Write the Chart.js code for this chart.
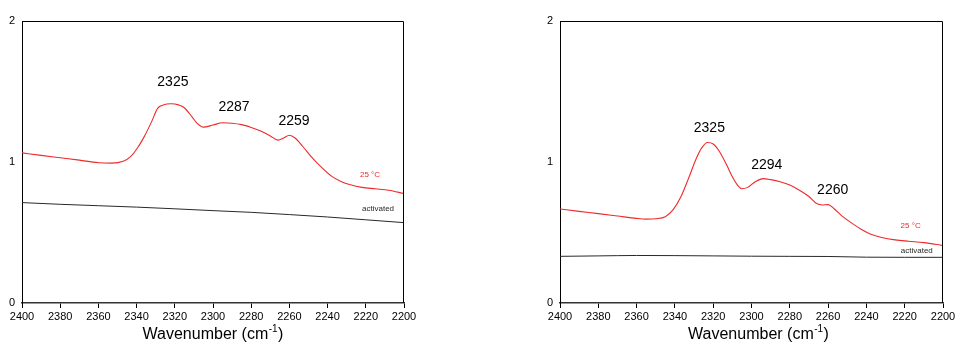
<!DOCTYPE html>
<html>
<head>
<meta charset="utf-8">
<script src="https://cdn.jsdelivr.net/npm/chart.js@4.4.1/dist/chart.umd.min.js"></script>
<style>
  html, body { margin: 0; padding: 0; background: #fff; overflow: hidden; width: 955px; height: 342px; }
  .box { position: absolute; top: 0; }
</style>
</head>
<body>
<div class="box" style="left:0px;"><canvas id="c1" width="420" height="342"></canvas></div>
<div class="box" style="left:530px;"><canvas id="c2" width="430" height="342"></canvas></div>
<script>
// ---------- data ----------
const xTickMin = 2200, xTickMax = 2400, xStep = 20;
const yTicks = [0, 1, 2];

// Left panel: 25 °C spectrum
const leftRedX = [2400,2390,2380,2370,2360,2353,2347,2343,2340,2336,2332,2329,2326,2322,2318,2315,2311,2308,2305,2300,2295,2290,2285,2280,2275,2270,2266,2263,2260,2257,2253,2248,2243,2238,2233,2228,2222,2215,2208,2200];
const leftRedY = [1.065,1.047,1.030,1.013,0.995,0.992,1.005,1.040,1.090,1.180,1.290,1.380,1.405,1.413,1.405,1.385,1.320,1.270,1.247,1.262,1.278,1.275,1.265,1.245,1.220,1.185,1.155,1.170,1.190,1.170,1.110,1.030,0.960,0.900,0.862,0.838,0.820,0.810,0.800,0.776];
// Left panel: activated
const leftBlackX = [2400,2380,2360,2340,2320,2300,2280,2260,2240,2220,2200];
const leftBlackY = [0.712,0.700,0.690,0.680,0.668,0.655,0.643,0.627,0.610,0.590,0.570];

// Right panel: 25 °C spectrum
const rightRedX = [2400,2390,2380,2370,2360,2355,2350,2345,2341,2337,2333,2329,2326,2323,2320,2317,2313,2310,2307,2305,2302,2298,2294,2290,2285,2280,2275,2270,2266,2263,2260,2257,2253,2248,2243,2238,2232,2225,2218,2210,2200];
const rightRedY = [0.667,0.650,0.634,0.617,0.600,0.595,0.598,0.612,0.660,0.750,0.880,1.020,1.100,1.138,1.128,1.080,0.980,0.895,0.830,0.810,0.820,0.860,0.882,0.875,0.860,0.837,0.800,0.755,0.705,0.695,0.698,0.670,0.620,0.570,0.525,0.490,0.465,0.448,0.438,0.428,0.407];
// Right panel: activated
const rightBlackX = [2400,2380,2360,2340,2320,2300,2280,2260,2240,2220,2200];
const rightBlackY = [0.331,0.334,0.337,0.336,0.334,0.332,0.331,0.330,0.325,0.324,0.324];

// Peak labels (text) and their anchors in data units
const leftPeakText = ['2325', '2287', '2259'];
const leftPeakX = [2321, 2289, 2257.6];
const leftPeakY = [1.567, 1.389, 1.289];
const rightPeakText = ['2325', '2294', '2260'];
const rightPeakX = [2322, 2292, 2257.6];
const rightPeakY = [1.240, 0.979, 0.800];

// Series labels
const seriesText = ['25 \u00B0C', 'activated'];
const leftSeriesX = [2217.8, 2213.6];
const leftSeriesY = [0.907, 0.665];
const rightSeriesX = [2216.9, 2213.7];
const rightSeriesY = [0.545, 0.367];

const xTitleMain = 'Wavenumber (cm';
const xTitleSup = '-1';
const xTitleEnd = ')';

// ---------- styles ----------
const FONT = '"Liberation Sans", Arial, Helvetica, sans-serif';
const RED = 'rgb(238,42,42)';
const BLACK = 'rgb(40,40,40)';

function pts(xs, ys) { return xs.map((x, i) => ({ x: x, y: ys[i] })); }

function makeChart(id, cfg) {
  const textPlugin = {
    id: 'texts' + id,
    afterDraw(chart) {
      const ctx = chart.ctx;
      const xs = chart.scales.x, ys = chart.scales.y;
      const a = chart.chartArea;
      ctx.save();
      // frame
      ctx.strokeStyle = '#000';
      ctx.lineWidth = 1;
      ctx.beginPath();
      ctx.moveTo(a.left, a.top + 0.5);
      ctx.lineTo(a.right - 0.5, a.top + 0.5);
      ctx.lineTo(a.right - 0.5, a.bottom);
      ctx.stroke();
      // peak labels
      ctx.fillStyle = '#000';
      ctx.font = '14px ' + FONT;
      ctx.textAlign = 'center';
      ctx.textBaseline = 'middle';
      cfg.peakText.forEach((t, i) => {
        ctx.fillText(t, xs.getPixelForValue(cfg.peakX[i]), ys.getPixelForValue(cfg.peakY[i]));
      });
      // series labels
      ctx.font = '8px ' + FONT;
      seriesText.forEach((t, i) => {
        ctx.fillStyle = i === 0 ? RED : BLACK;
        ctx.fillText(t, xs.getPixelForValue(cfg.seriesX[i]), ys.getPixelForValue(cfg.seriesY[i]));
      });
      // axis title with superscript
      ctx.fillStyle = '#000';
      ctx.textAlign = 'left';
      ctx.textBaseline = 'alphabetic';
      ctx.font = '16px ' + FONT;
      const w1 = ctx.measureText(xTitleMain).width;
      const w3 = ctx.measureText(xTitleEnd).width;
      ctx.font = '10px ' + FONT;
      const w2 = ctx.measureText(xTitleSup).width;
      const total = w1 + w2 + w3 + 1;
      const cx = (a.left + a.right) / 2 + cfg.titleShift;
      const base = 339;
      let x0 = cx - total / 2;
      ctx.font = '16px ' + FONT;
      ctx.fillText(xTitleMain, x0, base);
      ctx.font = '10px ' + FONT;
      ctx.fillText(xTitleSup, x0 + w1 + 0.5, base - 7);
      ctx.font = '16px ' + FONT;
      ctx.fillText(xTitleEnd, x0 + w1 + w2 + 1, base);
      ctx.restore();
    }
  };

  return new Chart(document.getElementById(id), {
    type: 'line',
    data: {
      datasets: [
        { data: pts(cfg.redX, cfg.redY), borderColor: RED, borderWidth: 1.1, pointRadius: 0, cubicInterpolationMode: 'monotone', fill: false },
        { data: pts(cfg.blackX, cfg.blackY), borderColor: BLACK, borderWidth: 1, pointRadius: 0, cubicInterpolationMode: 'monotone', fill: false }
      ]
    },
    options: {
      responsive: false,
      animation: false,
      devicePixelRatio: 1,
      layout: { padding: { top: 21, right: cfg.padRight, left: 0, bottom: 0 } },
      plugins: { legend: { display: false }, tooltip: { enabled: false } },
      scales: {
        x: {
          type: 'linear',
          reverse: true,
          min: xTickMin, max: xTickMax,
          afterFit: s => { s.height = 39; },
          grid: { display: true, drawOnChartArea: false, drawTicks: true, tickLength: 5, color: '#000' },
          border: { display: true, color: '#333', width: 1.5 },
          ticks: { stepSize: xStep, color: '#000', font: { family: FONT, size: 11 }, padding: 2, maxRotation: 0, autoSkip: false, callback: v => String(v) }
        },
        y: {
          type: 'linear',
          min: yTicks[0], max: yTicks[yTicks.length - 1],
          afterFit: s => { s.width = cfg.yWidth; },
          afterBuildTicks: s => { s.ticks = yTicks.map(v => ({ value: v })); },
          grid: { display: false, drawTicks: false, tickLength: 0 },
          border: { display: true, color: '#000', width: 1 },
          ticks: { color: '#000', font: { family: FONT, size: 11 }, padding: 7, callback: v => String(v) }
        }
      }
    },
    plugins: [textPlugin]
  });
}

makeChart('c1', {
  redX: leftRedX, redY: leftRedY, blackX: leftBlackX, blackY: leftBlackY,
  peakText: leftPeakText, peakX: leftPeakX, peakY: leftPeakY,
  seriesX: leftSeriesX, seriesY: leftSeriesY,
  yWidth: 22, padRight: 16, titleShift: 0
});
makeChart('c2', {
  redX: rightRedX, redY: rightRedY, blackX: rightBlackX, blackY: rightBlackY,
  peakText: rightPeakText, peakX: rightPeakX, peakY: rightPeakY,
  seriesX: rightSeriesX, seriesY: rightSeriesY,
  yWidth: 30, padRight: 17, titleShift: 7
});
</script>
</body>
</html>
